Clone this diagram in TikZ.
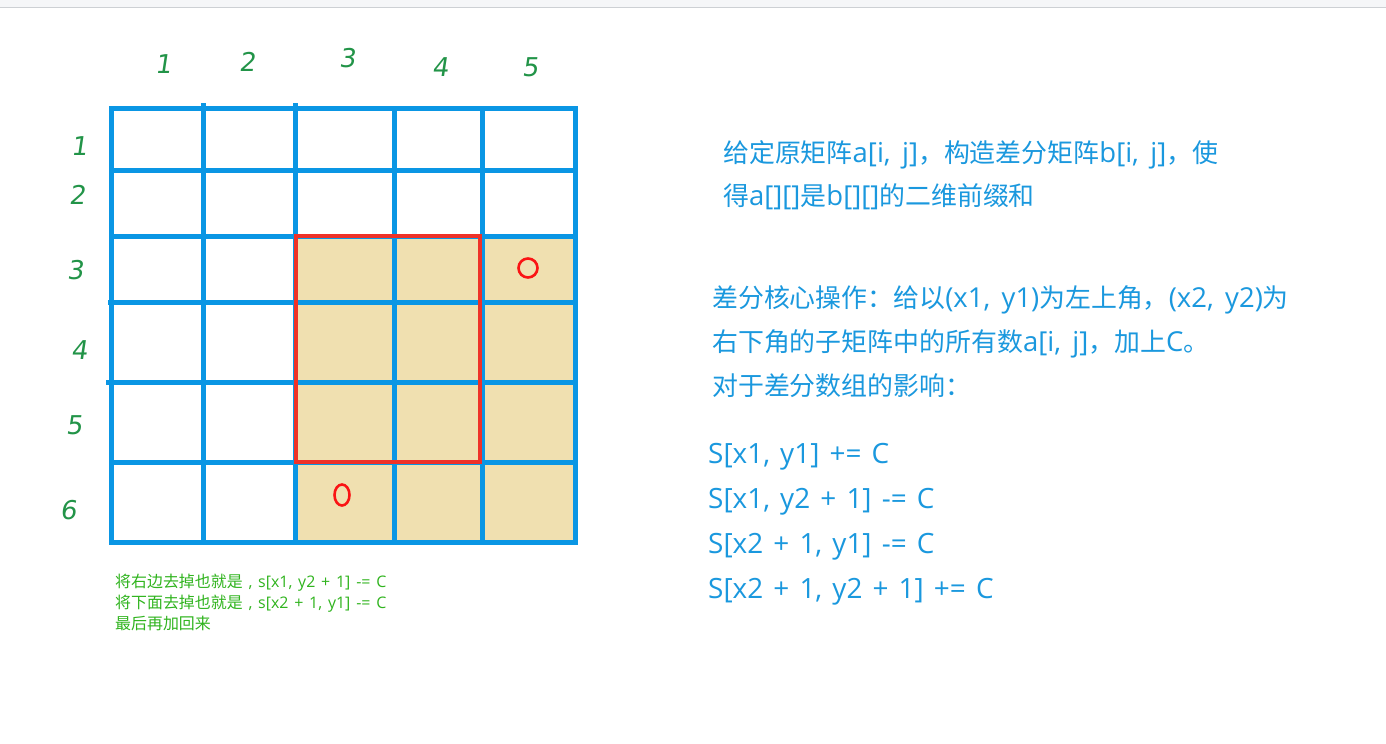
\documentclass[tikz,border=0pt]{standalone}
\usepackage{fontspec}
\usetikzlibrary{positioning}
\newfontfamily\cjk{Noto Sans CJK SC}
\newfontfamily\latn{Open Sans}[Scale=1.06, WordSpace=1.6]
\newfontfamily\hintlatn{Open Sans}[WordSpace=1.2]
\newfontfamily\formfont{Open Sans}[WordSpace=1.4]
\newfontfamily\hand{DejaVu Sans}[FakeSlant=0.15]
\newcommand\en[1]{{\latn #1}}
\newcommand\hen[1]{{\hintlatn #1}}
\definecolor{gridblue}{RGB}{10,150,228}
\definecolor{textblue}{RGB}{26,152,222}
\definecolor{cellfill}{RGB}{240,224,176}
\definecolor{boxred}{RGB}{238,50,40}
\definecolor{penred}{RGB}{250,20,20}
\definecolor{pengreen}{RGB}{34,148,72}
\definecolor{hintgreen}{RGB}{48,180,30}
\definecolor{barfill}{RGB}{245,246,248}
\definecolor{barline}{RGB}{205,208,212}

\begin{document}
\begin{tikzpicture}[x=1bp, y=-1bp,
  gridline/.style={draw=gridblue, line width=5bp},
  redbox/.style={draw=boxred, line width=4bp},
  pen/.style={draw=penred, line width=2.6bp},
  digit/.style={font=\hand\fontsize{26}{26}\selectfont, text=pengreen, inner sep=0pt},
  note/.style={font=\cjk\fontsize{26}{26}\selectfont, text=textblue, anchor=base west, inner sep=0pt},
  formula/.style={font=\formfont\fontsize{28}{28}\selectfont, text=textblue, anchor=base west, inner sep=0pt},
  hint/.style={font=\cjk\fontsize{16}{16}\selectfont, text=hintgreen, anchor=base west, inner sep=0pt}
]
\useasboundingbox[fill=white] (0,0) rectangle (1386,743);
% screenshot bar
\fill[barfill] (0,0) rectangle (1386,7);
\draw[barline, line width=1bp] (0,7.5) -- (1386,7.5);

% shaded cells and grid
\fill[cellfill] (295,236) rectangle (575,542);
\foreach \x/\top in {111/108,203/103,295/103,394/108,482/108,575/108}
  \draw[gridline] (\x,\top) -- (\x,542);
\foreach \y/\left in {108/111,170/111,236/111,302/108,382/106,462/110,542/111}
  \draw[gridline] (\left,\y) -- (575,\y);
\draw[gridline] (111,108) rectangle (575,542);
\draw[redbox] (296,236) rectangle (480,462);

% pen marks
\draw[pen] (528,268) ellipse (9.5 and 9.5);
\draw[pen] (342,495) ellipse (7.5 and 10.5);

% column and row numbers
\foreach \t/\x/\y [count=\i] in {1/163/64,2/247/62,3/347/58,4/440/67,5/530/67}
  \node[digit] (col\i) at (\x,\y) {\t};
\foreach \t/\x/\y [count=\i] in {1/79/146,2/77/195,3/75/270,4/79/350,5/74/425,6/68/510}
  \node[digit] (row\i) at (\x,\y) {\t};

% explanation
\node[note] (def1) at (723,162) {给定原矩阵\en{a[i, j]}，构造差分矩阵\en{b[i, j]}，使};
\node[note] (def2) at (723,205) {得\en{a[][]}是\en{b[][]}的二维前缀和};
\node[note] (op1) at (712,307) {差分核心操作：给以\en{(x1, y1)}为左上角，\en{(x2, y2)}为};
\node[note] (op2) at (712,351) {右下角的子矩阵中的所有数\en{a[i, j]}，加上\en{C}。};
\node[note] (op3) at (712,395) {对于差分数组的影响：};
\node[formula] (f1) at (708,463) {S[x1, y1] += C};
\node[formula] (f2) at (708,508) {S[x1, y2 + 1] -= C};
\node[formula] (f3) at (708,553) {S[x2 + 1, y1] -= C};
\node[formula] (f4) at (708,598) {S[x2 + 1, y2 + 1] += C};

% hint under the grid
\node[hint] (h1) at (115,587) {将右边去掉也就是\hen{\ , s[x1, y2 + 1] -= C}};
\node[hint] (h2) at (115,608) {将下面去掉也就是\hen{\ , s[x2 + 1, y1] -= C}};
\node[hint] (h3) at (115,629) {最后再加回来};
\end{tikzpicture}
\end{document}
